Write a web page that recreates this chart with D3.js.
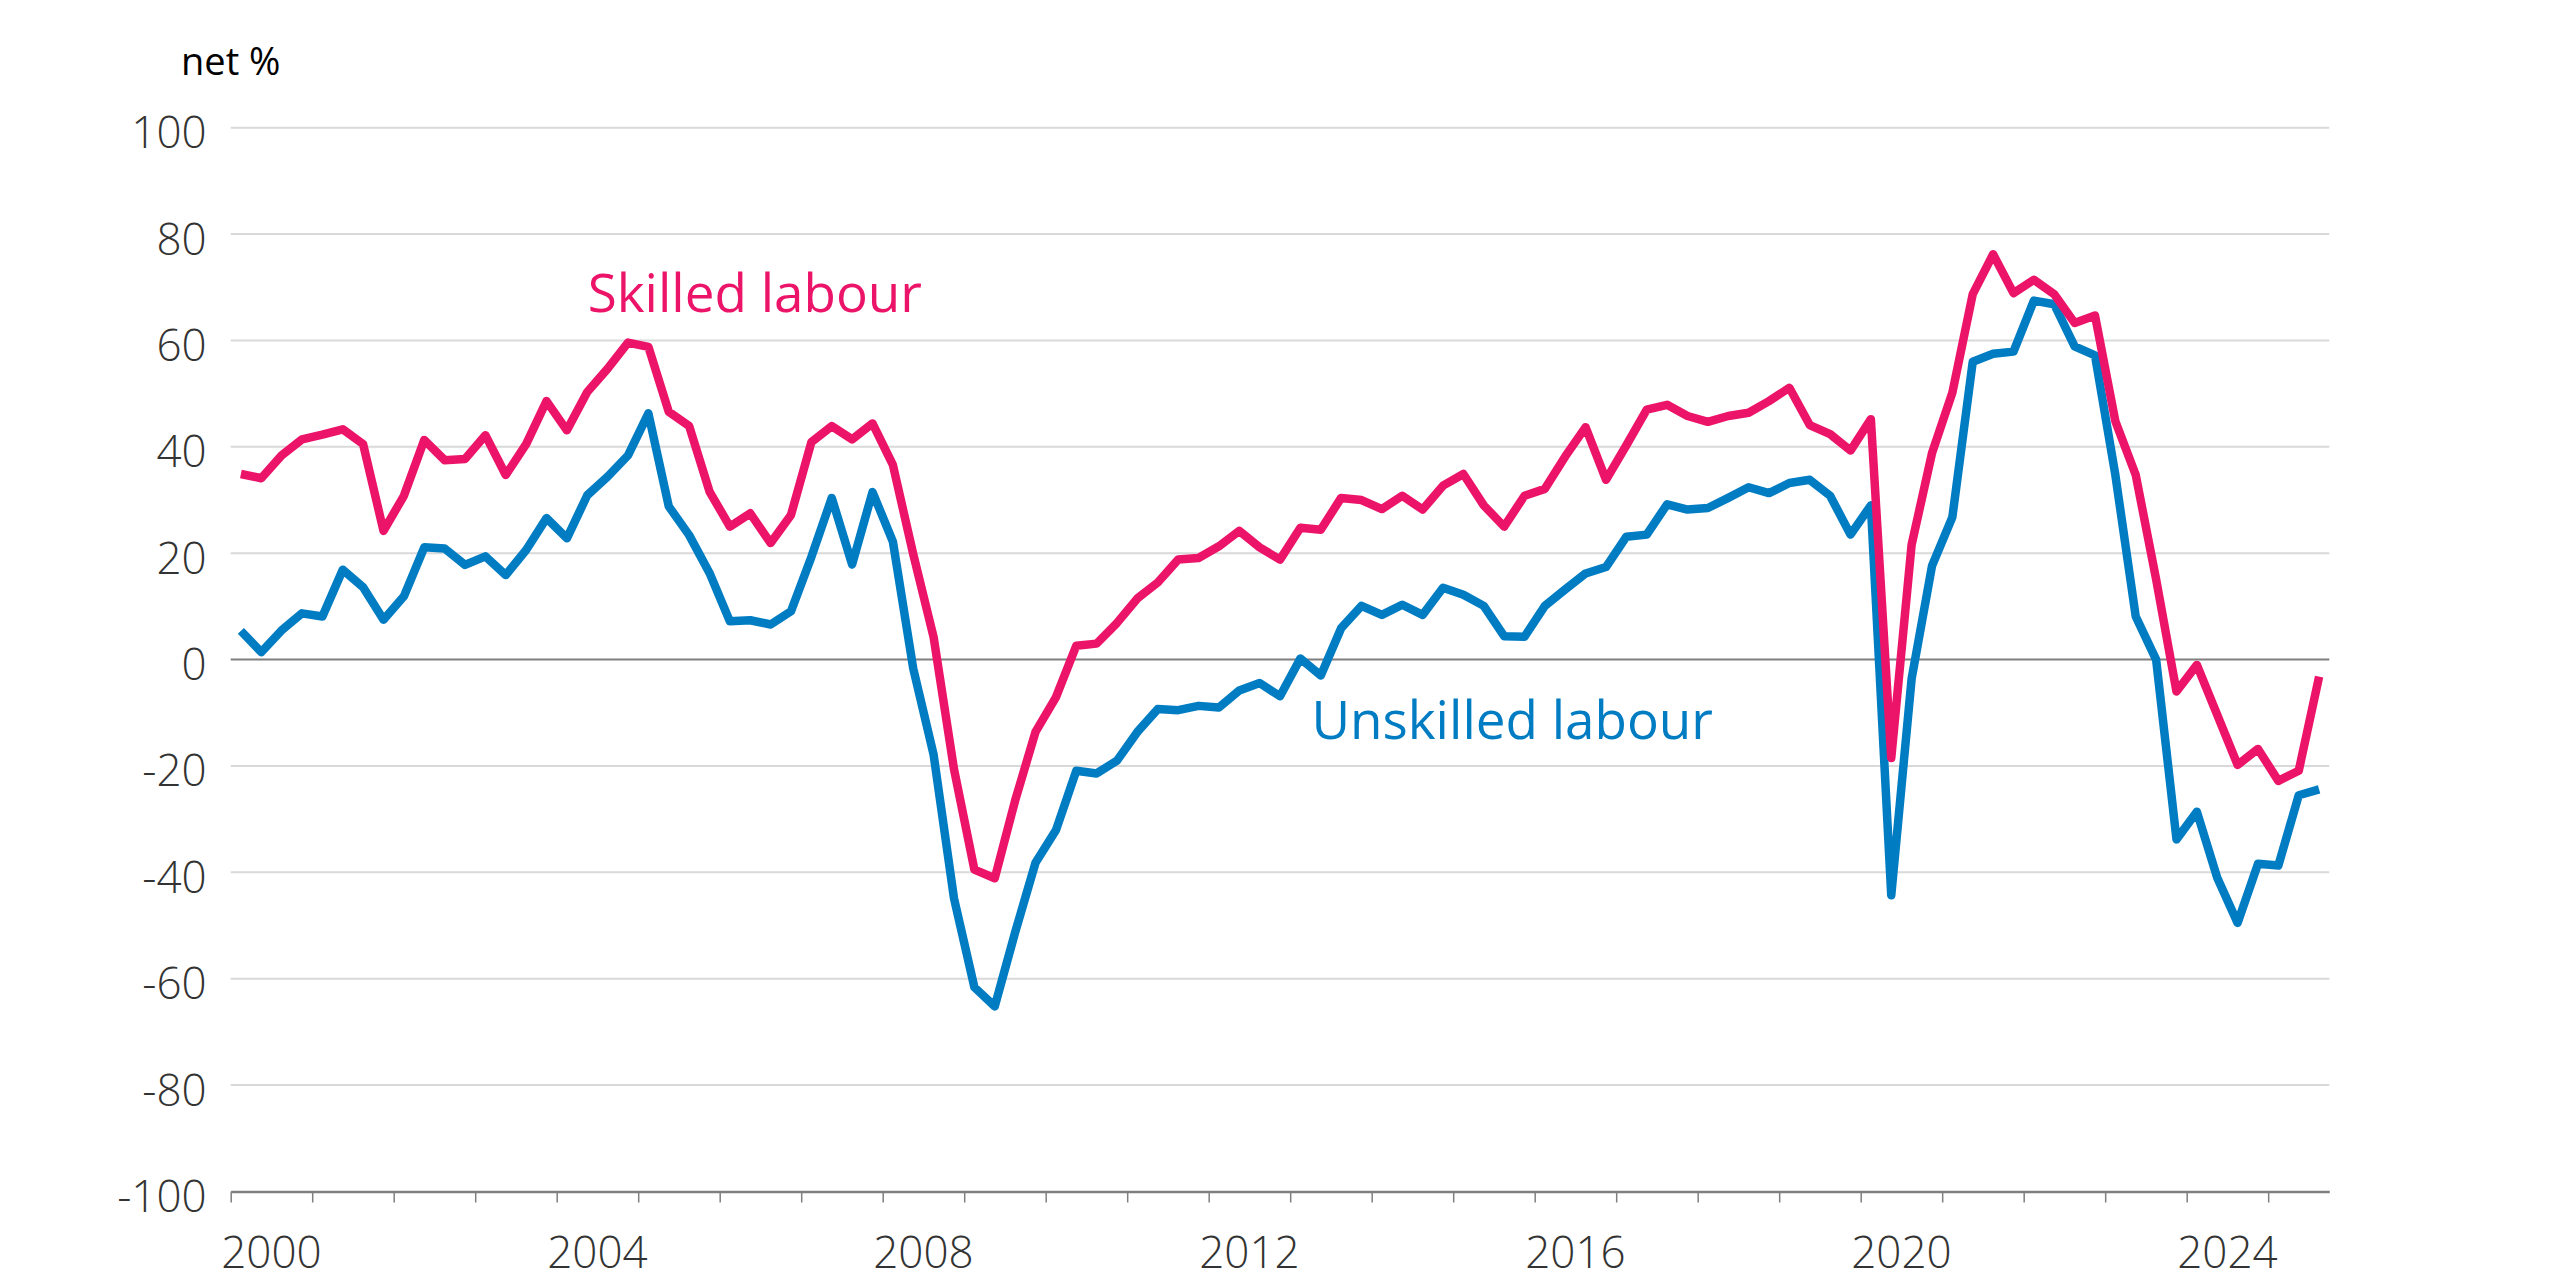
<!DOCTYPE html>
<html>
<head>
<meta charset="utf-8">
<script src="https://cdn.jsdelivr.net/npm/d3@7"></script>
<style>
  html, body { margin: 0; padding: 0; background: #ffffff; }
</style>
</head>
<body>
<div class="chart-div"></div>
<script>

//--------------------------- Data (quarterly, 2000 Q1 to 2025 Q3)

var startYear = 2000
var quarters = d3.range(0, 103).map(function (i) { return (startYear + Math.floor(i / 4)) + "-Q" + (i % 4 + 1); })

var skilled = [
    34.9, 34.1, 38.4, 41.4, 42.3, 43.3, 40.5, 24.2, 30.8, 41.3,
    37.5, 37.7, 42.2, 34.7, 40.5, 48.6, 43.1, 50.3, 54.7, 59.6,
    58.8, 46.6, 43.9, 31.6, 25.0, 27.5, 21.9, 27.2, 40.9, 43.9,
    41.4, 44.4, 36.6, 19.8, 4.2, -20.6, -39.5, -41.1, -26.5, -13.6,
    -7.1, 2.6, 3.0, 6.9, 11.5, 14.5, 18.8, 19.1, 21.3, 24.2,
    21.1, 18.8, 24.8, 24.4, 30.4, 30.0, 28.3, 30.8, 28.2, 32.7,
    34.9, 29.0, 25.0, 30.8, 32.1, 38.2, 43.7, 33.8, 40.3, 47.0,
    47.9, 45.8, 44.7, 45.8, 46.4, 48.6, 51.1, 44.1, 42.4, 39.3,
    45.2, -18.5, 21.6, 38.8, 50.2, 68.7, 76.2, 68.9, 71.4, 68.7,
    63.3, 64.7, 44.8, 34.7, 15.1, -6.0, -1.0, -10.4, -19.8, -16.8,
    -22.8, -20.9, -3.2
]

var unskilled = [
    5.4, 1.4, 5.5, 8.7, 8.1, 16.9, 13.6, 7.5, 11.9, 21.1,
    20.9, 17.8, 19.4, 15.9, 20.6, 26.6, 22.8, 30.9, 34.4, 38.4,
    46.3, 28.8, 23.4, 16.3, 7.2, 7.4, 6.6, 9.1, 19.3, 30.4,
    17.9, 31.5, 22.2, -1.7, -17.9, -44.9, -61.6, -65.2, -51.3, -38.2,
    -32.1, -20.9, -21.4, -19.0, -13.6, -9.3, -9.5, -8.7, -9.0, -5.8,
    -4.4, -6.9, 0.2, -3.0, 5.9, 10.1, 8.4, 10.3, 8.4, 13.5,
    12.2, 10.1, 4.4, 4.3, 10.1, 13.2, 16.2, 17.4, 23.1, 23.5,
    29.2, 28.2, 28.5, 30.4, 32.4, 31.3, 33.2, 33.8, 30.8, 23.5,
    29.0, -44.3, -3.6, 17.6, 26.8, 56.0, 57.5, 57.9, 67.5, 66.8,
    58.9, 57.2, 34.7, 8.1, 0.0, -33.8, -28.6, -41.0, -49.5, -38.4,
    -38.7, -25.5, -24.4
]

var yTicks = [-100, -80, -60, -40, -20, 0, 20, 40, 60, 80, 100]
var yearTicks = d3.range(2000, 2026)
var yearLabels = [2000, 2004, 2008, 2012, 2016, 2020, 2024]

//--------------------------- SVG definition

var width = 2560;
var height = 1280;

var svg = d3.select("div.chart-div")
    .append("svg")
    .attr("width", width)
    .attr("height", height)
    .style("display", "block")

svg.append("rect")
    .attr("width", width)
    .attr("height", height)
    .attr("fill", "#ffffff")

var pinkColor = "#ec1469"
var blueColor = "#007cc3"
var tickFont = "'Open Sans', 'Noto Sans', sans-serif"

//--------------------------- Scales

var x = d3.scaleLinear()
    .domain([2000, 2025.75])
    .range([230.7, 2329.3])

var y = d3.scaleLinear()
    .domain([-100, 100])
    .range([1191.5, 127.7])

// quarter i sits in the middle of its quarter
function qx(i) { return x(startYear + (i + 0.5) / 4); }

//--------------------------- Groups definition

var grid = svg.append("g")
var axes = svg.append("g")
var lines = svg.append("g")
var labels = svg.append("g")

//--------------------------- Gridlines and y labels

grid.selectAll("line").data(yTicks.filter(function (d) { return d != 0 && d != -100; })).enter()
    .append("line")
    .attr("x1", x.range()[0])
    .attr("x2", x.range()[1])
    .attr("y1", function (d) { return y(d); })
    .attr("y2", function (d) { return y(d); })
    .attr("stroke", "#d9d9d9")
    .attr("stroke-width", 2)

var yAxis = axes.append("g")
    .attr("transform", "translate(" + (x.range()[0] - 24) + ",20)")
    .call(d3.axisLeft(y).tickValues(yTicks).tickSize(0).tickPadding(0)
        .tickFormat(function (d) { return String(d); }))

yAxis.select(".domain").remove()
yAxis.selectAll("text")
    .attr("dy", 0)
    .attr("font-family", tickFont)
    .attr("font-weight", 300)
    .attr("font-size", 44)
    .attr("fill", "#333333")

// zero line
axes.append("line")
    .attr("x1", x.range()[0])
    .attr("x2", x.range()[1])
    .attr("y1", y(0))
    .attr("y2", y(0))
    .attr("stroke", "#7f7f7f")
    .attr("stroke-width", 2)

//--------------------------- X axis with year ticks

var xAxis = axes.append("g")
    .attr("transform", "translate(0," + y(-100) + ")")
    .call(d3.axisBottom(x).tickValues(yearTicks).tickSize(11).tickSizeOuter(0).tickFormat(""))

xAxis.select(".domain")
    .attr("stroke", "#7f7f7f")
    .attr("stroke-width", 2.5)
xAxis.selectAll(".tick line")
    .attr("stroke", "#7f7f7f")
    .attr("stroke-width", 1.5)

axes.selectAll("text.year").data(yearLabels).enter()
    .append("text")
    .attr("class", "year")
    .attr("x", function (d) { return x(d + 0.5); })
    .attr("y", y(-100) + 76)
    .attr("text-anchor", "middle")
    .attr("font-family", tickFont)
    .attr("font-weight", 300)
    .attr("font-size", 44)
    .attr("fill", "#333333")
    .text(function (d) { return d; })

axes.append("text")
    .attr("x", 181)
    .attr("y", 75)
    .attr("font-family", tickFont)
    .attr("font-size", 38)
    .attr("fill", "#000000")
    .text("net %")

//--------------------------- Lines

var lineGenerator = d3.line()
    .x(function (d, i) { return qx(i); })
    .y(function (d) { return y(d); })

var series = [
    { name: "Unskilled labour", values: unskilled, color: blueColor },
    { name: "Skilled labour", values: skilled, color: pinkColor }
]

lines.selectAll("path").data(series).enter()
    .append("path")
    .attr("d", function (d) { return lineGenerator(d.values); })
    .attr("fill", "none")
    .attr("stroke", function (d) { return d.color; })
    .attr("stroke-width", 8.5)
    .attr("stroke-linejoin", "round")
    .attr("stroke-linecap", "butt")

//--------------------------- Series labels

labels.append("text")
    .attr("x", x(2004.38))
    .attr("y", y(65.3))
    .attr("font-family", tickFont)
    .attr("font-size", 53)
    .attr("fill", pinkColor)
    .text("Skilled labour")

labels.append("text")
    .attr("x", x(2013.26))
    .attr("y", y(-14.9))
    .attr("font-family", tickFont)
    .attr("font-size", 53)
    .attr("fill", blueColor)
    .text("Unskilled labour")

</script>
</body>
</html>
